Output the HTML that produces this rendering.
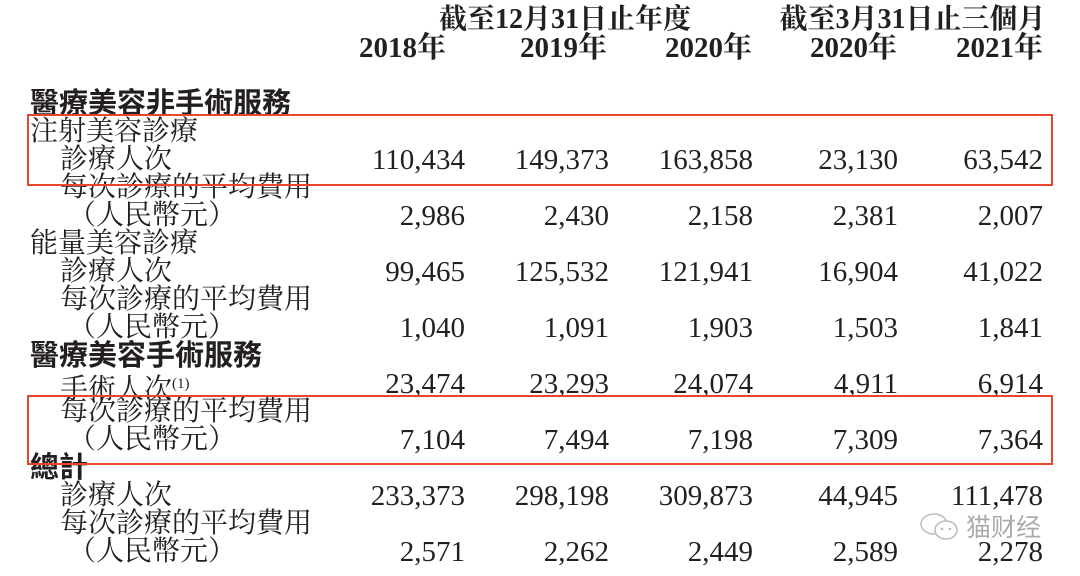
<!DOCTYPE html>
<html><head><meta charset="utf-8"><style>
body{margin:0;width:1080px;height:574px;background:#fff;overflow:hidden;position:relative;color:#231f20}
.t{position:absolute;font-size:28px;line-height:28px;white-space:nowrap;font-family:"Liberation Serif","Noto Serif CJK SC","Noto Serif CJK TC",serif}
.b{font-weight:bold}
.h{font-family:"Liberation Sans","Noto Sans CJK TC",sans-serif;font-weight:bold;font-size:29px}
.n{text-align:right;width:140px;font-size:29px}
.box{position:absolute;border:2px solid #e8472e}
.r{position:absolute;left:0;top:2px;width:1080px;height:574px}
</style></head><body>
<div class="r">
<div class="t b" style="left:420px;top:4px;width:290px;text-align:center">截至12月31日止年度</div>
<div class="t b" style="left:770px;top:4px;width:285px;text-align:center">截至3月31日止三個月</div>
<div class="t b n" style="left:306px;top:32px">2018年</div>
<div class="t b n" style="left:467px;top:32px">2019年</div>
<div class="t b n" style="left:612px;top:32px">2020年</div>
<div class="t b n" style="left:757px;top:32px">2020年</div>
<div class="t b n" style="left:903px;top:32px">2021年</div>

<div class="t h" style="left:30px;top:88px">醫療美容非手術服務</div>
<div class="t" style="left:30px;top:116px">注射美容診療</div>
<div class="t" style="left:60px;top:144px">診療人次</div>
<div class="t" style="left:60px;top:172px">每次診療的平均費用</div>
<div class="t" style="left:68px;top:200px">（人民幣元）</div>
<div class="t" style="left:30px;top:228px">能量美容診療</div>
<div class="t" style="left:60px;top:256px">診療人次</div>
<div class="t" style="left:60px;top:284px">每次診療的平均費用</div>
<div class="t" style="left:68px;top:312px">（人民幣元）</div>
<div class="t h" style="left:30px;top:340px">醫療美容手術服務</div>
<div class="t" style="left:60px;top:368px">手術人次<span style="font-size:15px;vertical-align:10px">(1)</span></div>
<div class="t" style="left:60px;top:396px">每次診療的平均費用</div>
<div class="t" style="left:68px;top:424px">（人民幣元）</div>
<div class="t h" style="left:30px;top:452px">總計</div>
<div class="t" style="left:60px;top:480px">診療人次</div>
<div class="t" style="left:60px;top:508px">每次診療的平均費用</div>
<div class="t" style="left:68px;top:536px">（人民幣元）</div>

<div class="t n" style="left:325px;top:144px">110,434</div><div class="t n" style="left:469px;top:144px">149,373</div><div class="t n" style="left:613px;top:144px">163,858</div><div class="t n" style="left:758px;top:144px">23,130</div><div class="t n" style="left:903px;top:144px">63,542</div>
<div class="t n" style="left:325px;top:200px">2,986</div><div class="t n" style="left:469px;top:200px">2,430</div><div class="t n" style="left:613px;top:200px">2,158</div><div class="t n" style="left:758px;top:200px">2,381</div><div class="t n" style="left:903px;top:200px">2,007</div>
<div class="t n" style="left:325px;top:256px">99,465</div><div class="t n" style="left:469px;top:256px">125,532</div><div class="t n" style="left:613px;top:256px">121,941</div><div class="t n" style="left:758px;top:256px">16,904</div><div class="t n" style="left:903px;top:256px">41,022</div>
<div class="t n" style="left:325px;top:312px">1,040</div><div class="t n" style="left:469px;top:312px">1,091</div><div class="t n" style="left:613px;top:312px">1,903</div><div class="t n" style="left:758px;top:312px">1,503</div><div class="t n" style="left:903px;top:312px">1,841</div>
<div class="t n" style="left:325px;top:368px">23,474</div><div class="t n" style="left:469px;top:368px">23,293</div><div class="t n" style="left:613px;top:368px">24,074</div><div class="t n" style="left:758px;top:368px">4,911</div><div class="t n" style="left:903px;top:368px">6,914</div>
<div class="t n" style="left:325px;top:424px">7,104</div><div class="t n" style="left:469px;top:424px">7,494</div><div class="t n" style="left:613px;top:424px">7,198</div><div class="t n" style="left:758px;top:424px">7,309</div><div class="t n" style="left:903px;top:424px">7,364</div>
<div class="t n" style="left:325px;top:480px">233,373</div><div class="t n" style="left:469px;top:480px">298,198</div><div class="t n" style="left:613px;top:480px">309,873</div><div class="t n" style="left:758px;top:480px">44,945</div><div class="t n" style="left:903px;top:480px">111,478</div>
<div class="t n" style="left:325px;top:536px">2,571</div><div class="t n" style="left:469px;top:536px">2,262</div><div class="t n" style="left:613px;top:536px">2,449</div><div class="t n" style="left:758px;top:536px">2,589</div><div class="t n" style="left:903px;top:536px">2,278</div>
</div>

<div class="box" style="left:27px;top:114px;width:1022px;height:68px"></div>
<div class="box" style="left:27px;top:395px;width:1022px;height:66px"></div>

<svg style="position:absolute;left:918px;top:512px" width="46" height="30" viewBox="0 0 46 30"><ellipse cx="16" cy="12" rx="13" ry="10" fill="#fff" stroke="#bbb" stroke-width="1.5"/><ellipse cx="28" cy="18" rx="11" ry="9" fill="#fff" stroke="#bbb" stroke-width="1.5"/><circle cx="24" cy="17" r="1.3" fill="#bbb"/><circle cx="32" cy="17" r="1.3" fill="#bbb"/></svg>
<div class="t" style="left:966px;top:514px;font-size:25px;color:#aaa;font-family:'Liberation Sans','Noto Sans CJK SC',sans-serif">猫财经</div>
</body></html>
